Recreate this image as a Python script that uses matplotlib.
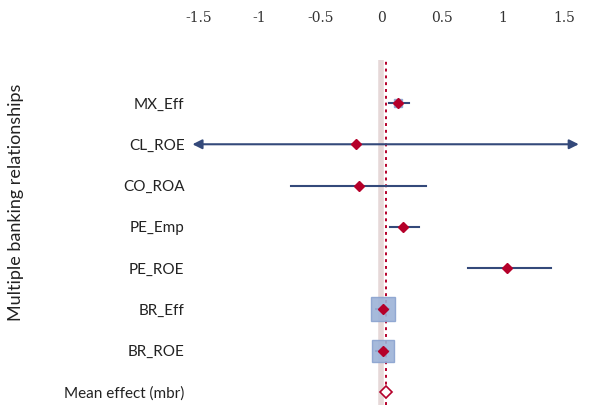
import numpy as np
import matplotlib.pyplot as plt

labels = ['MX_Eff', 'CL_ROE', 'CO_ROA', 'PE_Emp', 'PE_ROE', 'BR_Eff', 'BR_ROE']
effects = [0.14, -0.21, -0.18, 0.18, 1.03, 0.01, 0.01]
ci_low = [0.06, -1.55, -0.74, 0.07, 0.71, -0.04, -0.04]
ci_high = [0.23, 1.62, 0.37, 0.31, 1.39, 0.06, 0.06]
weights = [0.35, 0.0, 0.0, 0.15, 0.0, 1.0, 0.9]
mean_effect = 0.04
ticks = [-1.5, -1, -0.5, 0, 0.5, 1, 1.5]
tick_labels = ['-1.5', '-1', '-0.5', '0', '0.5', '1', '1.5']

fig = plt.figure(figsize=(5.89, 4.05), dpi=100)
ax = fig.add_axes([190 / 589, 0.0, 390 / 589, 1 - 60 / 405])

navy = '#34497a'
red = '#b5002a'

ax.axvline(0, color='#e6d8d8', lw=4, zorder=1)
ax.axvline(mean_effect, color=red, lw=1.4, ls=(0, (1.5, 2)), zorder=2)

y = np.arange(len(labels))
for i in range(len(labels)):
    if labels[i] == 'CL_ROE':
        ax.annotate('', xy=(ci_low[i], y[i]), xytext=(ci_high[i], y[i]),
                    arrowprops=dict(arrowstyle='<|-|>', color=navy, lw=1.5,
                                    mutation_scale=14, shrinkA=0, shrinkB=0))
    else:
        ax.plot([ci_low[i], ci_high[i]], [y[i], y[i]], color=navy, lw=1.5, zorder=3)
    if weights[i] > 0:
        ax.plot(effects[i], y[i], marker='s', ms=17 * weights[i], color='#9db3d8',
                mec='#8aa3cf', alpha=0.9, zorder=4)
    ax.plot(effects[i], y[i], marker='D', ms=5, color=red, mec=red, zorder=5)

ax.plot(mean_effect, len(labels), marker='D', ms=6.5, mfc='white', mec=red,
        mew=1.2, zorder=5)

ax.set_xlim(-1.57, 1.63)
ax.set_ylim(7.315, -1.041)
ax.xaxis.tick_top()
ax.set_xticks(ticks)
ax.set_xticklabels(tick_labels, fontsize=10, color='#333333', family='DejaVu Serif')
ax.tick_params(axis='x', length=0, pad=25.5)
ax.set_yticks(list(y) + [len(labels)])
ax.set_yticklabels(labels + ['Mean effect (mbr)'], fontsize=11, color='#222222',
                   family='Lato')
ax.tick_params(axis='y', length=0, pad=4)
for s in ax.spines.values():
    s.set_visible(False)

fig.text(0.027, 0.5, 'Multiple banking relationships', rotation=90,
         ha='center', va='center', fontsize=13, family='Lato', color='#222222')

fig.savefig('out.png', dpi=100)
